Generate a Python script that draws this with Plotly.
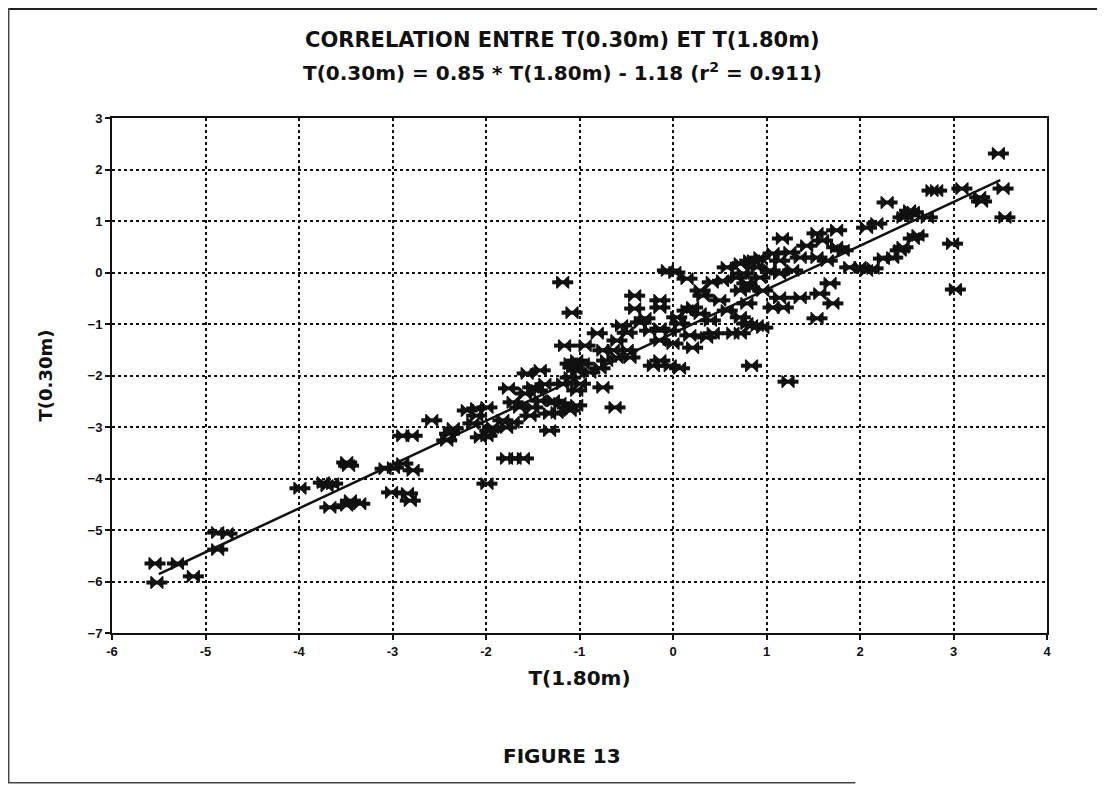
import plotly.graph_objects as go

# Data: T(1.80m) (x) and T(0.30m) (y)
t180 = [-5.54, -5.52, -5.30, -5.13, -4.87, -4.77, -4.87, -3.99, -3.74, -3.70, -3.64, -3.67, -3.49, -3.47,
        -3.45, -3.35, -3.49, -2.89, -2.79, -2.99, -2.89, -2.78, -3.01, -2.84, -2.81, -3.08, -2.58, -2.35,
        -2.39, -2.42, -2.20, -2.10, -1.99, -2.10, -2.14, -2.06, -1.99, -1.93, -1.96, -1.82, -1.78, -1.71,
        -1.71, -1.64, -1.53, -1.50, -1.76, -1.78, -1.69, -1.60, -1.99, -1.56, -1.42, -1.50, -1.45, -1.28,
        -1.21, -1.13, -1.10, -1.32, -1.24, -1.32, -1.10, -1.03,
        -1.18, -1.08, -0.41, -0.41, -0.14, -0.14, -0.06, 0.02, 0.15, -1.16, -0.81, -0.55, -0.49, -0.75,
        -0.64, -0.49, -0.60, -0.71, -0.46, -1.03, -1.07, -0.96, -1.10, -1.18, -0.99, -1.03, -0.75, -1.03,
        -0.62, -0.21, -0.03, 0.07, -0.14, -0.14, 0.00, 0.21, 0.36, 0.43, -0.14, -0.03, 0.04, 0.15, 0.21,
        0.29, 0.07, 0.32, 0.50, 0.58, 0.72, 0.79, 0.64, 0.84, 0.84, 0.58, 0.72, 0.86, 0.93, 0.53, 0.68,
        0.79, 1.23, -0.30, -0.25, 0.18, 0.40, -0.78, -0.89,
        2.29, 1.17, 1.54, 1.75, 2.07, 2.18, 2.50, 2.57, 2.43, 2.35, 2.25, 2.14, 1.89, 2.00, 2.07, 1.43,
        1.60, 1.75, 1.82, 1.25, 1.07, 1.14, 1.36, 1.54, 1.65, 0.82, 0.90, 0.75, 0.93, 1.04, 1.14, 1.28,
        0.72, 0.82, 0.96, 1.14, 1.36, 1.57, 1.68, 1.71, 1.18, 1.07, 0.79, 1.54, 0.90, 0.96, 0.72,
        3.48, 2.82, 2.77, 3.09, 3.28, 3.30, 3.53, 3.55, 2.99, 3.02, 2.53, 2.46, 2.72, 2.62, 2.57, 2.46,
        0.29, 0.42, -0.35, -0.60, -0.94, -1.37, -1.58, -1.42]

t030 = [-5.65, -6.02, -5.65, -5.90, -5.05, -5.07, -5.38, -4.19, -4.08, -4.14, -4.10, -4.56, -3.69, -3.75,
        -4.43, -4.49, -4.52, -3.17, -3.17, -3.79, -3.71, -3.84, -4.27, -4.29, -4.43, -3.81, -2.87, -3.03,
        -3.13, -3.26, -2.68, -2.64, -2.62, -2.78, -2.93, -3.20, -3.17, -3.01, -3.07, -2.87, -3.01, -2.91,
        -2.52, -2.62, -2.78, -2.62, -2.25, -3.61, -3.61, -3.61, -4.10, -1.96, -1.90, -2.23, -2.29, -2.49,
        -2.54, -2.62, -2.68, -2.74, -2.72, -3.07, -1.77, -1.90,
        -0.19, -0.78, -0.45, -0.70, -0.54, -0.68, 0.04, 0.00, -0.12, -1.42, -1.18, -1.03, -1.17, -1.51,
        -1.51, -1.51, -1.65, -1.71, -1.65, -1.71, -1.84, -1.77, -2.04, -2.16, -2.16, -2.29, -2.23, -2.58,
        -2.62, -1.81, -1.81, -1.86, -1.71, -1.32, -1.38, -1.46, -1.26, -1.18, -1.09, -1.13, -0.87, -0.74,
        -0.68, -0.80, -0.99, -0.45, -0.54, -0.74, -0.87, -0.99, -1.18, -1.03, -1.81, 0.10, 0.17, 0.23,
        0.29, -0.16, -0.10, -0.21, -2.12, -0.89, -1.13, -1.22, -0.93, -1.86, -1.94,
        1.36, 0.66, 0.76, 0.82, 0.87, 0.95, 1.11, 1.17, 0.43, 0.29, 0.27, 0.08, 0.10, 0.10, 0.04, 0.52,
        0.62, 0.49, 0.43, 0.39, 0.37, 0.23, 0.29, 0.29, 0.23, 0.23, 0.10, -0.02, -0.10, 0.04, -0.02, 0.04,
        -0.35, -0.29, -0.35, -0.49, -0.49, -0.41, -0.21, -0.60, -0.68, -0.68, -0.60, -0.89, -1.03, -1.07,
        -1.18,
        2.31, 1.59, 1.59, 1.63, 1.46, 1.38, 1.63, 1.07, 0.56, -0.33, 1.20, 1.07, 1.07, 0.72, 0.66, 0.49,
        -0.35, -0.19, -0.97, -1.32, -1.42, -2.17, -2.35, -2.49]

slope = 0.85
intercept = -1.18
fit_range = [-5.5, 3.5]

x_ticks = [-6, -5, -4, -3, -2, -1, 0, 1, 2, 3, 4]
x_tick_labels = ["-6", "-5", "-4", "-3", "-2", "-1", "0", "1", "2", "3", "4"]
y_ticks = [3, 2, 1, 0, -1, -2, -3, -4, -5, -6, -7]

title_line1 = "CORRELATION ENTRE T(0.30m) ET T(1.80m)"
title_line2 = "T(0.30m) = 0.85 * T(1.80m) - 1.18 (r<sup>2</sup> = 0.911)"
x_title = "T(1.80m)"
y_title = "T(0.30m)"
caption = "FIGURE 13"

INK = "#111111"
FONT = "DejaVu Sans"

fig = go.Figure()
# horizontal bar part of the star-like marker
fig.add_trace(go.Scatter(
    x=t180, y=t030, mode="markers",
    marker=dict(symbol="line-ew-open", size=15, color=INK, line=dict(color=INK, width=4)),
    showlegend=False, hoverinfo="skip"))
fig.add_trace(go.Scatter(
    x=t180, y=t030, mode="markers",
    marker=dict(symbol="bowtie", size=12, color=INK, line=dict(color=INK, width=1.2)),
    showlegend=False, hoverinfo="x+y"))
fig.add_trace(go.Scatter(
    x=fit_range, y=[slope * v + intercept for v in fit_range],
    mode="lines", line=dict(color=INK, width=2.5),
    showlegend=False, hoverinfo="skip"))

axis_common = dict(
    showline=True, linecolor=INK, linewidth=2, mirror=True,
    showgrid=True, gridcolor=INK, griddash="dot", gridwidth=1.6,
    zeroline=False, ticks="outside", ticklen=5, tickcolor=INK, tickwidth=2,
    tickfont=dict(family="Liberation Sans", size=13, color=INK, weight="bold"),
)

fig.update_xaxes(range=[-6, 4], tickvals=x_ticks, ticktext=x_tick_labels,
                 title=dict(text=x_title, standoff=13,
                            font=dict(family=FONT, size=20, color=INK, weight="bold")),
                 **axis_common)
fig.update_yaxes(range=[-7, 3], tickvals=y_ticks,
                 title=dict(text=y_title, standoff=30,
                            font=dict(family=FONT, size=18, color=INK, weight="bold")),
                 **axis_common)

# The page adds an 8px offset; the figure is sized so that the plot lands where the reference has it.
fig.update_layout(
    width=1097, height=778,
    margin=dict(l=104, r=58, t=110, b=153),
    plot_bgcolor="white", paper_bgcolor="white",
    annotations=[
        dict(text=title_line1, xref="paper", yref="paper", x=0.482, y=1.151,
             xanchor="center", yanchor="middle", showarrow=False,
             font=dict(family=FONT, size=21, color=INK, weight="bold")),
        dict(text=title_line2, xref="paper", yref="paper", x=0.482, y=1.089,
             xanchor="center", yanchor="middle", showarrow=False,
             font=dict(family=FONT, size=20, color=INK, weight="bold")),
        dict(text=caption, xref="paper", yref="paper", x=0.481, y=-0.239,
             xanchor="center", yanchor="middle", showarrow=False,
             font=dict(family=FONT, size=20, color=INK, weight="bold")),
    ],
    shapes=[
        dict(type="line", xref="paper", yref="paper", x0=-0.12, x1=1.07, y0=1.2117, y1=1.2117,
             line=dict(color="#222222", width=2)),
        dict(type="line", xref="paper", yref="paper", x0=-0.1105, x1=-0.1105, y0=1.2136, y1=-0.291,
             line=dict(color="#444444", width=1.5)),
        dict(type="line", xref="paper", yref="paper", x0=-0.12, x1=0.795, y0=-0.291, y1=-0.291,
             line=dict(color="#444444", width=1.5)),
    ],
)

fig.write_html("out.html")
